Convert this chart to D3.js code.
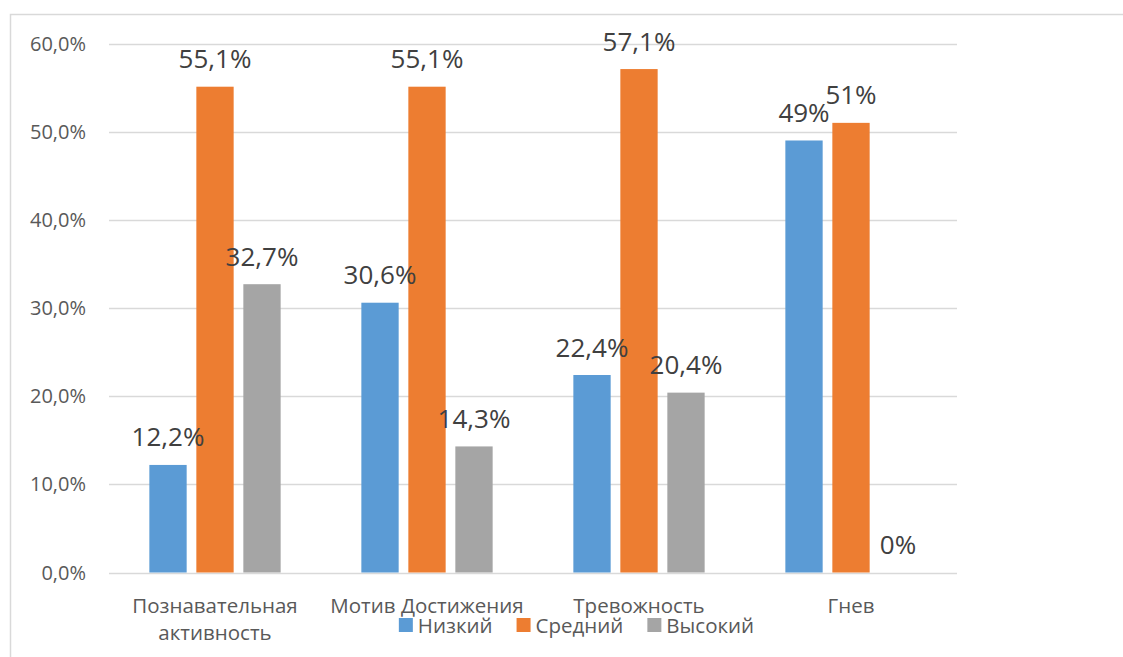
<!DOCTYPE html>
<html>
<head>
<meta charset="utf-8">
<script src="https://cdn.jsdelivr.net/npm/d3@7"></script>
<style>
  html, body { margin: 0; padding: 0; background: #ffffff; }
  svg { display: block; font-family: "Open Sans", "Noto Sans", sans-serif; }
</style>
</head>
<body>
<svg id="chart" width="1123" height="657"></svg>
<script>
// Category names (line breaks where the axis label wraps)
const categories = ["Познавательная\nактивность", "Мотив Достижения", "Тревожность", "Гнев"];
const seriesNames = ["Низкий", "Средний", "Высокий"];
const seriesColors = ["#5B9BD5", "#ED7D31", "#A5A5A5"];

// Percentages per series, one value per category
const lowValues = [12.2, 30.6, 22.4, 49];
const midValues = [55.1, 55.1, 57.1, 51];
const highValues = [32.7, 14.3, 20.4, 0];
// Text shown above each bar
const lowLabels = ["12,2%", "30,6%", "22,4%", "49%"];
const midLabels = ["55,1%", "55,1%", "57,1%", "51%"];
const highLabels = ["32,7%", "14,3%", "20,4%", "0%"];

const yTicks = [0, 10, 20, 30, 40, 50, 60];
const yTickLabels = ["0,0%", "10,0%", "20,0%", "30,0%", "40,0%", "50,0%", "60,0%"];

const seriesValues = [lowValues, midValues, highValues];
const seriesLabels = [lowLabels, midLabels, highLabels];

const svg = d3.select("#chart");

// chart frame
svg.append("rect")
  .attr("x", 10.5).attr("y", 14.5)
  .attr("width", 1130).attr("height", 660)
  .attr("fill", "none").attr("stroke", "#d9d9d9").attr("stroke-width", 1.5);

const plot = { left: 109, right: 957, top: 43.5, bottom: 572.5 };

const y = d3.scaleLinear().domain([0, 60]).range([plot.bottom, plot.top]);
const x0 = d3.scaleBand().domain(d3.range(categories.length))
  .range([plot.left, plot.right]).paddingInner(0).paddingOuter(0);
const groupW = x0.bandwidth();
const clusterW = 131.3;
const x1 = d3.scaleBand().domain(d3.range(seriesNames.length))
  .range([(groupW - clusterW) / 2, (groupW + clusterW) / 2])
  .paddingInner(0.206).paddingOuter(0);

// gridlines
svg.append("g").selectAll("line").data(yTicks).join("line")
  .attr("x1", plot.left).attr("x2", plot.right)
  .attr("y1", d => Math.round(y(d)) + 0.5).attr("y2", d => Math.round(y(d)) + 0.5)
  .attr("stroke", "#d9d9d9").attr("stroke-width", 1.3);

// y tick labels
svg.append("g").selectAll("text").data(yTicks).join("text")
  .attr("x", 86).attr("y", d => y(d))
  .attr("dy", "0.35em")
  .attr("text-anchor", "end")
  .attr("font-size", 20).attr("fill", "#595959")
  .text((d, i) => yTickLabels[i]);

// bars and value labels
const rows = [];
categories.forEach((c, ci) => {
  seriesNames.forEach((s, si) => {
    rows.push({ ci, si, v: seriesValues[si][ci], label: seriesLabels[si][ci] });
  });
});

svg.append("g").selectAll("rect").data(rows.filter(r => r.v > 0)).join("rect")
  .attr("x", r => x0(r.ci) + x1(r.si))
  .attr("y", r => y(r.v))
  .attr("width", x1.bandwidth())
  .attr("height", r => y(0) - y(r.v))
  .attr("fill", r => seriesColors[r.si]);

svg.append("g").selectAll("text").data(rows).join("text")
  .attr("x", r => x0(r.ci) + x1(r.si) + x1.bandwidth() / 2)
  .attr("y", r => y(r.v) - 18.5)
  .attr("text-anchor", "middle")
  .attr("font-size", 26).attr("fill", "#404040")
  .text(r => r.label);

// category labels
const catG = svg.append("g").selectAll("text").data(categories).join("text")
  .attr("text-anchor", "middle")
  .attr("font-size", 20.5).attr("fill", "#595959")
  .attr("x", (d, i) => x0(i) + groupW / 2)
  .attr("y", 613);
catG.each(function (d, i) {
  const t = d3.select(this);
  d.split("\n").forEach((line, li) => {
    t.append("tspan").attr("x", x0(i) + groupW / 2)
      .attr("dy", li === 0 ? 0 : 27).text(line);
  });
});

// legend
const legend = svg.append("g");
const items = legend.selectAll("g").data(seriesNames).join("g");
items.append("rect").attr("width", 14).attr("height", 14).attr("y", 618)
  .attr("fill", (d, i) => seriesColors[i]);
items.append("text").attr("x", 19).attr("y", 632.5)
  .attr("font-size", 20.5).attr("fill", "#595959")
  .text(d => d);
let cursor = 0;
const offsets = [];
items.each(function () {
  offsets.push(cursor);
  cursor += this.getBBox().width + 24;
});
const totalW = cursor - 24;
const startX = 576.5 - totalW / 2;
items.attr("transform", (d, i) => `translate(${startX + offsets[i]},0)`);
</script>
</body>
</html>
